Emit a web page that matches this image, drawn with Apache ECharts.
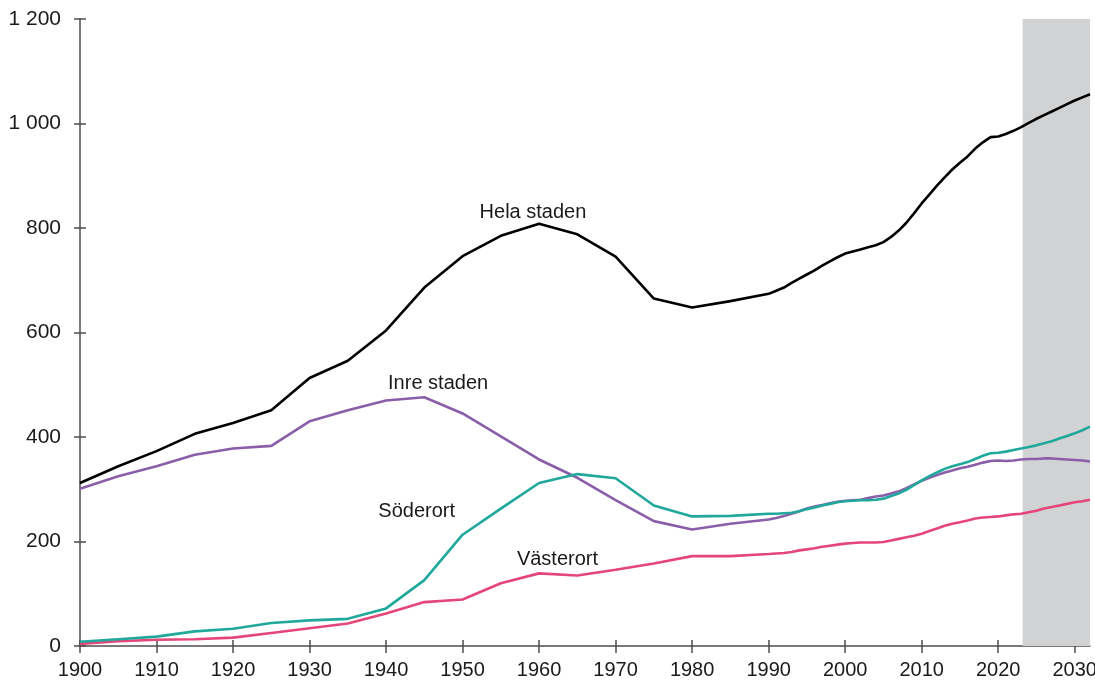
<!DOCTYPE html>
<html>
<head>
<meta charset="utf-8">
<script src="https://cdn.jsdelivr.net/npm/echarts@6/dist/echarts.min.js"></script>
<style>
  html, body { margin: 0; padding: 0; background: #fff; }
  #chart { width: 1095px; height: 680px; }
</style>
</head>
<body>
<div id="chart"></div>
<script>
// years: 5-year steps up to 1985, then yearly (forecast from 2024)
const years = [1900, 1905, 1910, 1915, 1920, 1925, 1930, 1935, 1940, 1945, 1950, 1955, 1960, 1965, 1970, 1975, 1980, 1985,
  1990, 1991, 1992, 1993, 1994, 1995, 1996, 1997, 1998, 1999, 2000, 2001, 2002, 2003, 2004, 2005, 2006, 2007, 2008, 2009,
  2010, 2011, 2012, 2013, 2014, 2015, 2016, 2017, 2018, 2019, 2020, 2021, 2022, 2023, 2024, 2025, 2026, 2027, 2028, 2029,
  2030, 2031, 2032];

const helaStaden = [312, 344, 373, 406, 427, 451, 513, 546, 604, 686, 746, 785, 808, 788, 745, 665, 648, 660,
  674, 680, 686, 695, 703, 711, 719, 728, 736, 744, 751, 755, 759, 763, 767, 773, 783, 795, 810, 828,
  847, 864, 881, 897, 912, 925, 937, 952, 964, 974, 975, 980, 986, 993, 1001, 1009, 1016, 1023, 1030, 1037,
  1044, 1050, 1056];

const inreStaden = [301, 325, 344, 366, 378, 383, 430, 451, 470, 476, 445, 401, 357, 322, 279, 239, 223, 234,
  242, 245, 249, 253, 258, 263, 267, 270, 273, 276, 278, 279, 280, 283, 286, 288, 292, 296, 302, 309,
  316, 322, 327, 332, 336, 340, 343, 347, 351, 354, 355, 354, 355, 357, 358, 358, 359, 359, 358, 357,
  356, 355, 353];

const soderort = [8, 13, 18, 28, 33, 44, 49, 52, 72, 126, 213, 263, 312, 329, 321, 269, 248, 249,
  253, 253, 254, 255, 258, 262, 265, 269, 272, 275, 277, 278, 279, 279, 280, 282, 287, 292, 299, 308,
  317, 325, 332, 339, 344, 348, 352, 358, 364, 369, 370, 372, 375, 378, 381, 384, 388, 392, 397, 402,
  407, 413, 420];

const vasterort = [4, 9, 12, 13, 16, 25, 34, 43, 62, 84, 89, 120, 139, 135, 146, 158, 172, 172,
  176, 177, 178, 180, 183, 185, 187, 190, 192, 194, 196, 197, 198, 198, 198, 199, 202, 205, 208, 211,
  215, 220, 225, 230, 234, 237, 240, 244, 246, 247, 248, 250, 252, 253, 256, 259, 263, 266, 269, 272,
  275, 277, 280];

const xTicks = [1900, 1910, 1920, 1930, 1940, 1950, 1960, 1970, 1980, 1990, 2000, 2010, 2020, 2030];
const forecastStart = 2023.2;
const forecastEnd = 2032;

// label name, x (year), y (value)
const seriesLabels = [
  ["Hela staden", 1959.2, 830],
  ["Inre staden", 1946.8, 503],
  ["Söderort", 1944, 258],
  ["Västerort", 1962.4, 165],
];

const FONT = "'Liberation Sans', Arial, sans-serif";
const AXIS_COLOR = "#4d4d4d";
const TEXT_COLOR = "#1a1a1a";

function pairs(vals) {
  return years.map((y, i) => [y, vals[i]]);
}

const chart = echarts.init(document.getElementById("chart"), null, { renderer: "canvas" });

const xBase = {
  type: "value",
  min: 1900,
  max: forecastEnd,
  splitLine: { show: false },
  axisLine: { show: false },
  axisLabel: { show: false },
  axisTick: { show: false },
};
const yBase = {
  type: "value",
  min: 0,
  max: 1200,
  interval: 200,
  splitLine: { show: false },
  axisLine: { show: false },
  axisLabel: { show: false },
  axisTick: { show: false },
};

let option = {
  animation: false,
  backgroundColor: "#fff",
  grid: { left: 80, right: 5, top: 19, bottom: 34, outerBoundsMode: "none", containLabel: false },
  xAxis: [
    Object.assign({}, xBase, {
      axisLine: { show: true, onZero: false, lineStyle: { color: AXIS_COLOR, width: 1.5 } },
      axisTick: { show: true, length: 7, customValues: xTicks, lineStyle: { color: AXIS_COLOR, width: 1.5 } },
      axisLabel: {
        show: true, customValues: xTicks, margin: 14,
        color: TEXT_COLOR, fontSize: 20, fontFamily: FONT,
        formatter: v => String(v),
      },
    }),
    // inner half of the crossing ticks
    Object.assign({}, xBase, {
      position: "bottom",
      axisTick: { show: true, inside: true, length: 6, customValues: xTicks, lineStyle: { color: AXIS_COLOR, width: 1.5 } },
    }),
  ],
  yAxis: [
    Object.assign({}, yBase, {
      axisLine: { show: true, onZero: false, lineStyle: { color: AXIS_COLOR, width: 1.5 } },
      axisTick: { show: true, length: 6, lineStyle: { color: AXIS_COLOR, width: 1.5 } },
      axisLabel: {
        show: true, margin: 19,
        color: TEXT_COLOR, fontSize: 21, fontFamily: FONT,
        formatter: v => String(v).replace(/\B(?=(\d{3})+(?!\d))/g, " "),
      },
    }),
    Object.assign({}, yBase, {
      position: "left",
      axisTick: { show: true, inside: true, length: 6, lineStyle: { color: AXIS_COLOR, width: 1.5 } },
    }),
  ],
  series: [
    {
      name: "forecast",
      type: "line",
      data: [],
      silent: true,
      markArea: {
        silent: true,
        itemStyle: { color: "#d1d2d4" },
        data: [[{ xAxis: forecastStart }, { xAxis: forecastEnd }]],
      },
      z: 1,
    },
    {
      name: "Västerort", type: "line", data: pairs(vasterort), showSymbol: false,
      lineStyle: { color: "#e5467a", width: 2.6 }, itemStyle: { color: "#e5467a" }, z: 3,
    },
    {
      name: "Inre staden", type: "line", data: pairs(inreStaden), showSymbol: false,
      lineStyle: { color: "#8a5ea8", width: 2.6 }, itemStyle: { color: "#8a5ea8" }, z: 3,
    },
    {
      name: "Söderort", type: "line", data: pairs(soderort), showSymbol: false,
      lineStyle: { color: "#1fa89b", width: 2.6 }, itemStyle: { color: "#1fa89b" }, z: 4,
    },
    {
      name: "Hela staden", type: "line", data: pairs(helaStaden), showSymbol: false,
      lineStyle: { color: "#000", width: 2.6 }, itemStyle: { color: "#000" }, z: 5,
    },
    {
      name: "labels",
      type: "scatter",
      symbolSize: 0,
      silent: true,
      itemStyle: { opacity: 1 },
      data: seriesLabels.map(l => ({ value: [l[1], l[2]], name: l[0] })),
      label: {
        show: true,
        position: "inside",
        formatter: p => p.name,
        color: TEXT_COLOR,
        opacity: 1,
        fontSize: 20,
        fontFamily: FONT,
      },
      z: 6,
    },
  ],
};

chart.setOption(option);
</script>
</body>
</html>
